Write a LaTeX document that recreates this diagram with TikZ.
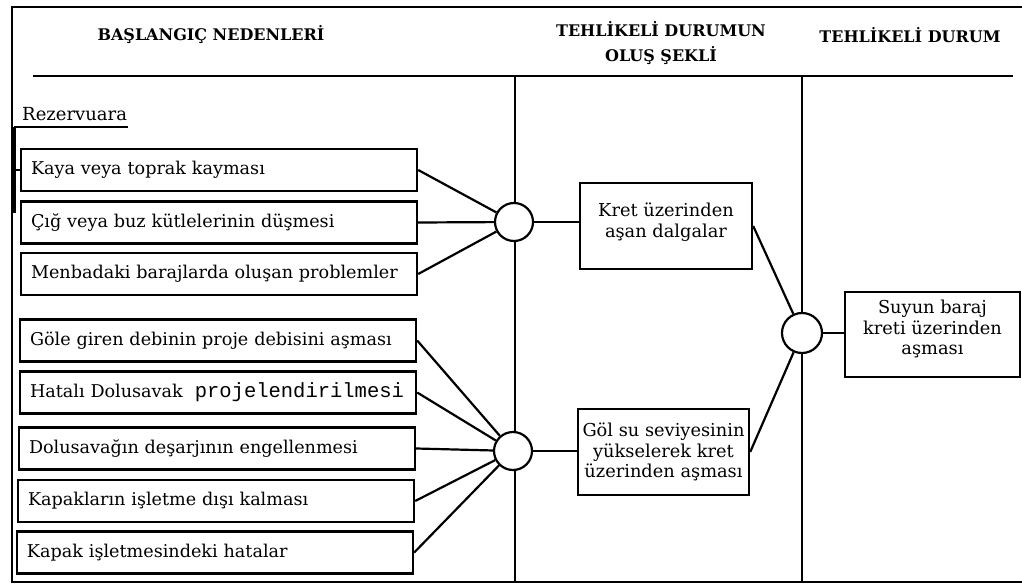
\documentclass[tikz,border=0pt]{standalone}
\usepackage{fontspec}
\setmainfont{DejaVu Serif}
\newfontfamily\monofam{Liberation Mono}
\begin{document}
\begin{tikzpicture}[x=1pt,y=-1pt,
  frame/.style={line width=2.2pt},
  cause/.style={draw, line width=2.4pt, text width=376pt, align=left,
    inner xsep=10pt, inner ysep=0pt, minimum height=42pt,
    font=\fontsize{17.6}{20}\selectfont},
  event/.style={draw, line width=2.4pt, align=center, inner sep=0pt,
    font=\fontsize{17.8}{20.5}\selectfont},
  junction/.style={circle, draw, line width=2.2pt, fill=white,
    minimum size=38pt, inner sep=0pt},
  link/.style={line width=2.2pt},
  head/.style={align=center, font=\bfseries\fontsize{16}{25}\selectfont}
]
\useasboundingbox (0,0) rectangle (1022,585);

% outer frame (open on the right)
\draw[frame] (1022,7) -- (12,7) -- (12,582) -- (1022,582);
% header rule and column dividers
\draw[frame] (33,76) -- (1013,76);
\draw[frame] (515,76) -- (515,582);
\draw[frame] (802,76) -- (802,582);

% column headings
\node[head] (h1) at (211,35) {BAŞLANGIÇ NEDENLERİ};
\node[head] (h2) at (661,43) {TEHLİKELİ DURUMUN\\OLUŞ ŞEKLİ};
\node[head] (h3) at (910,35) {TEHLİKELİ DURUM};

% reservoir group label with its bracket
\node[anchor=base west, inner sep=0pt, font=\fontsize{18}{20}\selectfont]
  (rez) at (22,121) {Rezervuara};
\coordinate (rezL) at (14,127);
\coordinate (rezR) at (128,127);
\coordinate (rezB) at (14,213);
\draw[line width=1.6pt] (rezL) -- (rezR);
\draw[line width=3.5pt] (rezL) -- (rezB);

% initiating causes
\node[cause] (b1) at (219,170)   {\mbox{Kaya veya toprak kayması}};
\node[cause] (b2) at (219,222.5) {\mbox{Çığ veya buz kütlelerinin düşmesi}};
\node[cause] (b3) at (219,274)   {\mbox{Menbadaki barajlarda oluşan problemler}};
\node[cause] (b4) at (218,340.5) {\mbox{Göle giren debinin proje debisini aşması}};
\node[cause] (b5) at (218,392.5) {\mbox{Hatalı Dolusavak\hspace{12pt}{\monofam\fontsize{20.5}{20}\selectfont projelendirilmesi}}};
\node[cause] (b6) at (217,448.5) {\mbox{Dolusavağın deşarjının engellenmesi}};
\node[cause] (b7) at (216,501)   {\mbox{Kapakların işletme dışı kalması}};
\node[cause] (b8) at (215,552.5) {\mbox{Kapak işletmesindeki hatalar}};

\draw[line width=1.6pt] (rezL |- b1.west) -- (b1.west);

% modes of occurrence
\node[event, minimum width=172pt, minimum height=86pt] (kret) at (666,226)
  {Kret üzerinden\\aşan dalgalar\\[-8.5pt]};
\node[event, minimum width=171pt, minimum height=86pt] (gol) at (663.5,452)
  {Göl su seviyesinin\\yükselerek kret\\üzerinden aşması};

% hazardous situation
\node[event, minimum width=175pt, minimum height=85pt] (top) at (932.5,334.5)
  {Suyun baraj\\kreti üzerinden\\aşması\\[-6pt]};

% junctions
\node[junction] (c1) at (514,222) {};
\node[junction] (c2) at (513,451) {};
\node[junction, minimum size=40pt] (c3) at (802,333) {};

% connectors
\draw[link] (b1.east) -- (c1);
\draw[link] (b2.east) -- (c1);
\draw[link] (b3.east) -- (c1);
\foreach \b in {b4,b5,b6,b7,b8} \draw[link] (\b.east) -- (c2);
\draw[link] (c1) -- (c1 -| kret.west);
\draw[link] (c2) -- (c2 -| gol.west);
\draw[link] (kret.east) -- (c3);
\draw[link] (gol.east) -- (c3);
\draw[link] (c3) -- (c3 -| top.west);
\end{tikzpicture}
\end{document}
